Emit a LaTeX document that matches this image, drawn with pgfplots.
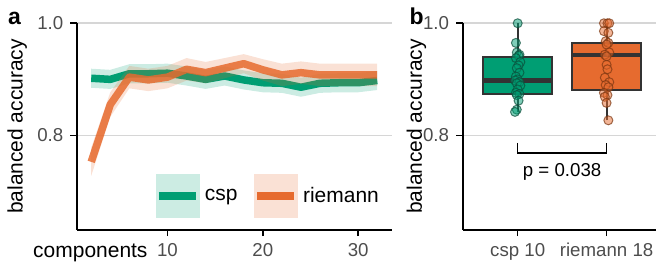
\documentclass[border=0pt]{standalone}
\usepackage{pgfplots}
\pgfplotsset{compat=1.18}
\usepackage{pgfplotstable}
\usepackage{fontspec}
\setmainfont{Liberation Sans}

\definecolor{cspc}{HTML}{009E73}
\definecolor{riec}{HTML}{E66B2F}
\definecolor{cspdark}{HTML}{0B4D3A}
\definecolor{riedark}{HTML}{7A3510}
\definecolor{tickgray}{HTML}{4D4D4D}
\definecolor{gridc}{HTML}{D6D6D6}
\definecolor{boxgray}{HTML}{333333}

\pgfplotstableread{
x csp rie
2  0.902 0.753
4  0.900 0.855
6  0.910 0.904
8  0.910 0.899
10 0.911 0.904
12 0.906 0.918
14 0.900 0.912
16 0.906 0.920
18 0.899 0.928
20 0.894 0.917
22 0.893 0.908
24 0.886 0.912
26 0.893 0.908
28 0.894 0.908
30 0.894 0.908
32 0.898 0.908
}\linedata

% confidence band of csp: upper edge forward, lower edge backward
\pgfplotstableread{
x y
2  0.919
4  0.917
6  0.927
8  0.927
10 0.928
12 0.923
14 0.917
16 0.923
18 0.916
20 0.911
22 0.910
24 0.903
26 0.910
28 0.911
30 0.911
32 0.915
32 0.881
30 0.877
28 0.877
26 0.876
24 0.869
22 0.876
20 0.877
18 0.882
16 0.889
14 0.883
12 0.889
10 0.894
8  0.893
6  0.893
4  0.883
2  0.885
}\cspband

% confidence band of riemann
\pgfplotstableread{
x y
2  0.778
4  0.877
6  0.924
8  0.919
10 0.924
12 0.938
14 0.931
16 0.938
18 0.945
20 0.936
22 0.928
24 0.932
26 0.928
28 0.928
30 0.928
32 0.928
32 0.888
30 0.888
28 0.888
26 0.888
24 0.892
22 0.888
20 0.898
18 0.911
16 0.902
14 0.893
12 0.898
10 0.884
8  0.879
6  0.884
4  0.833
2  0.728
}\rieband

\pgfplotstableread{
x y
1.00 1.000
0.98 0.965
0.99 0.948
1.02 0.944
1.01 0.942
0.98 0.938
1.03 0.931
1.01 0.925
0.99 0.920
1.02 0.912
0.98 0.905
1.00 0.900
0.97 0.898
1.02 0.895
0.99 0.893
1.03 0.889
1.00 0.882
0.98 0.876
1.02 0.874
0.99 0.872
1.01 0.862
0.99 0.846
0.97 0.842
}\cspdata

\pgfplotstableread{
x y
1.97 1.000
2.01 1.000
2.03 1.000
1.97 0.986
2.02 0.983
1.99 0.968
2.02 0.965
2.00 0.962
2.03 0.948
1.98 0.944
2.00 0.941
2.00 0.926
2.01 0.918
1.98 0.903
2.03 0.895
1.99 0.890
2.02 0.886
1.97 0.876
2.01 0.872
1.98 0.869
2.00 0.858
2.02 0.827
}\riedata

\newcommand{\labfont}{\fontsize{21bp}{25bp}\selectfont}
\newcommand{\tickfont}{\fontsize{18.7bp}{22bp}\selectfont}

\pgfplotsset{
  common/.style={
    scale only axis,
    anchor=south west,
    height=206.7bp,
    ymin=0.632, ymax=1.0,
    axis lines=left,
    axis line style={-, line width=1.6bp, black},
    ytick={0.8,1.0},
    yticklabels={0.8,1.0},
    ymajorgrids,
    grid style={line width=1.6bp, gridc},
    tick align=outside,
    major tick length=6.5bp,
    tick style={line width=1.6bp, black},
    tick label style={font=\tickfont, text=tickgray},
    /pgf/number format/assume math mode=true,
    yticklabel style={anchor=east, inner sep=0pt, xshift=-7bp},
    xticklabel style={anchor=north, inner sep=0pt, yshift=-7bp},
    label style={font=\labfont},
  }
}

\begin{document}
\begin{tikzpicture}

\begin{axis}[common,
  at={(77bp,33bp)}, width=315bp,
  xmin=0.5, xmax=33.5,
  xtick={10,20,30},
  xlabel={components},
  xlabel style={at={(axis description cs:0.225,0)}, anchor=base east, yshift=-28bp, inner sep=0pt},
  ylabel={balanced accuracy},
  ylabel style={at={(axis description cs:-0.19,0.5)}, anchor=center, inner sep=0pt},
  legend columns=2,
  legend cell align=left,
  legend style={at={(axis description cs:0.248,0.058)}, anchor=south west, draw=none, fill=none,
    inner sep=0pt, font=\labfont,
    /tikz/every even column/.append style={column sep=14bp}},
]
\addlegendimage{legend image code/.code={%
  \path[draw=none, fill=none] (0bp,0bp) rectangle (47bp,0.1bp);
  \fill[cspc!20] (0bp,-21.4bp) rectangle (43bp,21.4bp);
  \draw[cspc, line width=7.5bp] (3bp,0bp) -- (40bp,0bp);}}
\addlegendentry{csp}
\addlegendimage{legend image code/.code={%
  \path[draw=none, fill=none] (0bp,0bp) rectangle (47bp,0.1bp);
  \fill[riec!20] (0bp,-21.4bp) rectangle (43bp,21.4bp);
  \draw[riec, line width=7.5bp] (3bp,0bp) -- (40bp,0bp);}}
\addlegendentry{riemann}

\addplot[fill=cspc, fill opacity=0.2, draw=none, forget plot] table[x=x, y=y] {\cspband} -- cycle;
\addplot[cspc, line width=7.5bp, line join=round, forget plot] table[x=x, y=csp] {\linedata};
\addplot[fill=riec, fill opacity=0.2, draw=none, forget plot] table[x=x, y=y] {\rieband} -- cycle;
\addplot[riec, line width=7.5bp, line join=round, opacity=0.85, forget plot] table[x=x, y=rie] {\linedata};
\end{axis}

\begin{axis}[common,
  at={(463.3bp,33bp)}, width=193.7bp,
  xmin=0.382, xmax=2.558,
  xtick={1,2}, xticklabels={csp 10, riemann 18},
  ylabel={balanced accuracy},
  ylabel style={at={(axis description cs:-0.239,0.5)}, anchor=center, inner sep=0pt},
  clip=false,
]
% whiskers
\addplot[boxgray, line width=2bp] coordinates {(1,0.842) (1,0.874)};
\addplot[boxgray, line width=2bp] coordinates {(1,0.9406) (1,1.0)};
\addplot[boxgray, line width=2bp] coordinates {(2,0.827) (2,0.881)};
\addplot[boxgray, line width=2bp] coordinates {(2,0.9655) (2,1.0)};
% boxes (lower quartile, upper quartile)
\addplot[fill=cspc, draw=boxgray, line width=2bp] coordinates {(0.615,0.874) (1.385,0.874) (1.385,0.9406) (0.615,0.9406)} -- cycle;
\addplot[fill=riec, draw=boxgray, line width=2bp] coordinates {(1.615,0.881) (2.385,0.881) (2.385,0.9655) (1.615,0.9655)} -- cycle;
% medians
\addplot[boxgray, line width=4.5bp] coordinates {(0.615,0.898) (1.385,0.898)};
\addplot[boxgray, line width=4.5bp] coordinates {(1.615,0.9436) (2.385,0.9436)};
% individual points
\addplot[only marks, mark=*, mark size=4.5bp,
  mark options={fill=cspc, fill opacity=0.5, draw=cspdark, draw opacity=0.7, line width=1bp}]
  table[x=x, y=y] {\cspdata};
\addplot[only marks, mark=*, mark size=4.5bp,
  mark options={fill=riec, fill opacity=0.5, draw=riedark, draw opacity=0.7, line width=1bp}]
  table[x=x, y=y] {\riedata};
\draw[line width=1.6bp, black] (axis cs:1,0.787) |- (axis cs:1.5,0.7687) -| (axis cs:2,0.787);
\node[font=\tickfont, anchor=base] at (axis cs:1.5,0.727) {p = 0.038};
\end{axis}

\node[anchor=base west, inner sep=0pt, font=\bfseries\fontsize{23bp}{26bp}\selectfont] at (8bp,238bp) {a};
\node[anchor=base west, inner sep=0pt, font=\bfseries\fontsize{23bp}{26bp}\selectfont] at (410bp,238bp) {b};
\path[use as bounding box] (0,0) rectangle (657bp,263bp);
\end{tikzpicture}
\end{document}
